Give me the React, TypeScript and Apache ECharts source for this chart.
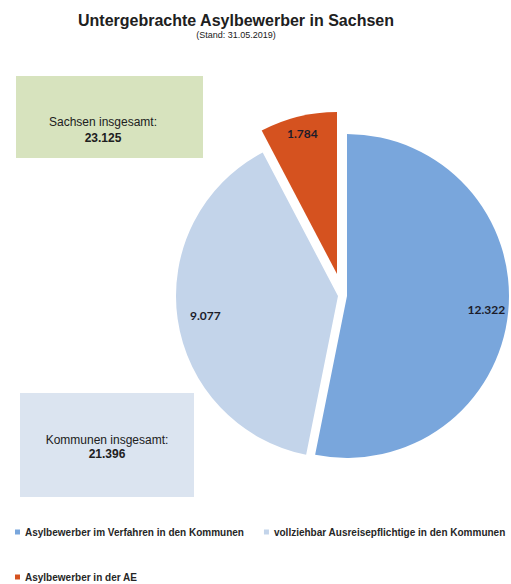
import React, { useEffect, useRef } from "react";
import * as echarts from "echarts";

const titleText = "Untergebrachte Asylbewerber in Sachsen";
const subtitleText = "(Stand: 31.05.2019)";
const categories = [
  "Asylbewerber im Verfahren in den Kommunen",
  "vollziehbar Ausreisepflichtige in den Kommunen",
  "Asylbewerber in der AE",
];
const values = [12322, 9077, 1784];
const totalLabels = ["Sachsen insgesamt:", "Kommunen insgesamt:"];
const totalValues = [23125, 21396];

const colors = ["#79a6dc", "#c3d4ea", "#d5521f"];
const sliceCenters = [
  [347, 296],
  [338, 296],
  [337, 274],
];
const R = 162;
const labelInner = [112, 100, 122];
const LABEL_FONT = "Lato, 'Open Sans', sans-serif";
const TEXT_FONT = "'Liberation Sans', Arial, sans-serif";

const fmt = (v: number) => String(v).replace(/\B(?=(\d{3})+(?!\d))/g, ".");

function sliceSeries(i: number) {
  const common = {
    type: "pie",
    center: sliceCenters[i],
    startAngle: 90,
    clockwise: true,
    silent: true,
    avoidLabelOverlap: false,
    emphasis: { disabled: true },
    labelLine: { show: false },
    itemStyle: { borderWidth: 0 },
  };
  return [
    {
      ...common,
      radius: R,
      label: { show: false },
      data: categories.map((name, j) => ({
        name,
        value: values[j],
        itemStyle: { color: j === i ? colors[i] : "rgba(0,0,0,0)", borderWidth: 0 },
      })),
    },
    {
      ...common,
      radius: [labelInner[i], R],
      z: 5,
      label: {
        show: true,
        position: "inside",
        formatter: (p: any) => fmt(p.value),
        fontFamily: LABEL_FONT,
        fontWeight: "bold",
        fontSize: 12,
        color: "#1c1c2a",
      },
      data: categories.map((name, j) => ({
        name,
        value: values[j],
        itemStyle: { color: "rgba(0,0,0,0)", borderWidth: 0 },
        label: { show: j === i },
      })),
    },
  ];
}

export default function App() {
  const ref = useRef<HTMLDivElement>(null);
  useEffect(() => {
    if (!ref.current) return;
    const chart = echarts.init(ref.current, undefined, { renderer: "svg" });
    const textEl = (text: string, x: number, y: number, size: number, bold: boolean) => ({
      type: "text",
      x,
      y,
      silent: true,
      style: {
        text,
        fontSize: size,
        fontFamily: TEXT_FONT,
        fontWeight: bold ? "bold" : "normal",
        fill: "#202020",
        textAlign: "center",
        textVerticalAlign: "middle",
      },
    });
    const legendText = { fontFamily: TEXT_FONT, fontSize: 10, fontWeight: "bold", color: "#262626" };
    chart.setOption({
      animation: false,
      backgroundColor: "#ffffff",
      legend: [
        {
          left: 15,
          top: 527,
          width: 496,
          padding: 0,
          orient: "horizontal",
          itemWidth: 5,
          itemHeight: 5,
          itemGap: 20,
          icon: "rect",
          selectedMode: false,
          textStyle: legendText,
          data: [0, 1].map((j) => ({ name: categories[j], itemStyle: { color: colors[j] } })),
        },
        {
          left: 15,
          top: 572,
          width: 496,
          padding: 0,
          orient: "horizontal",
          itemWidth: 5,
          itemHeight: 5,
          icon: "rect",
          selectedMode: false,
          textStyle: legendText,
          data: [2].map((j) => ({ name: categories[j], itemStyle: { color: colors[j] } })),
        },
      ],
      graphic: [
        textEl(titleText, 236, 20, 16, true),
        textEl(subtitleText, 236, 35, 9, false),
        {
          type: "rect",
          silent: true,
          shape: { x: 16, y: 76, width: 187, height: 82 },
          style: { fill: "#d7e3be" },
        },
        textEl(totalLabels[0], 103, 122, 12, false),
        textEl(fmt(totalValues[0]), 103, 138, 12, true),
        {
          type: "rect",
          silent: true,
          shape: { x: 20, y: 393, width: 174, height: 104 },
          style: { fill: "#dbe4f0" },
        },
        textEl(totalLabels[1], 107, 440, 12, false),
        textEl(fmt(totalValues[1]), 107, 454, 12, true),
      ],
      series: [...sliceSeries(0), ...sliceSeries(1), ...sliceSeries(2)],
    });
    return () => chart.dispose();
  }, []);
  return (
    <div
      ref={ref}
      style={{ position: "fixed", left: 0, top: 0, width: 511, height: 584, background: "#fff" }}
    />
  );
}
